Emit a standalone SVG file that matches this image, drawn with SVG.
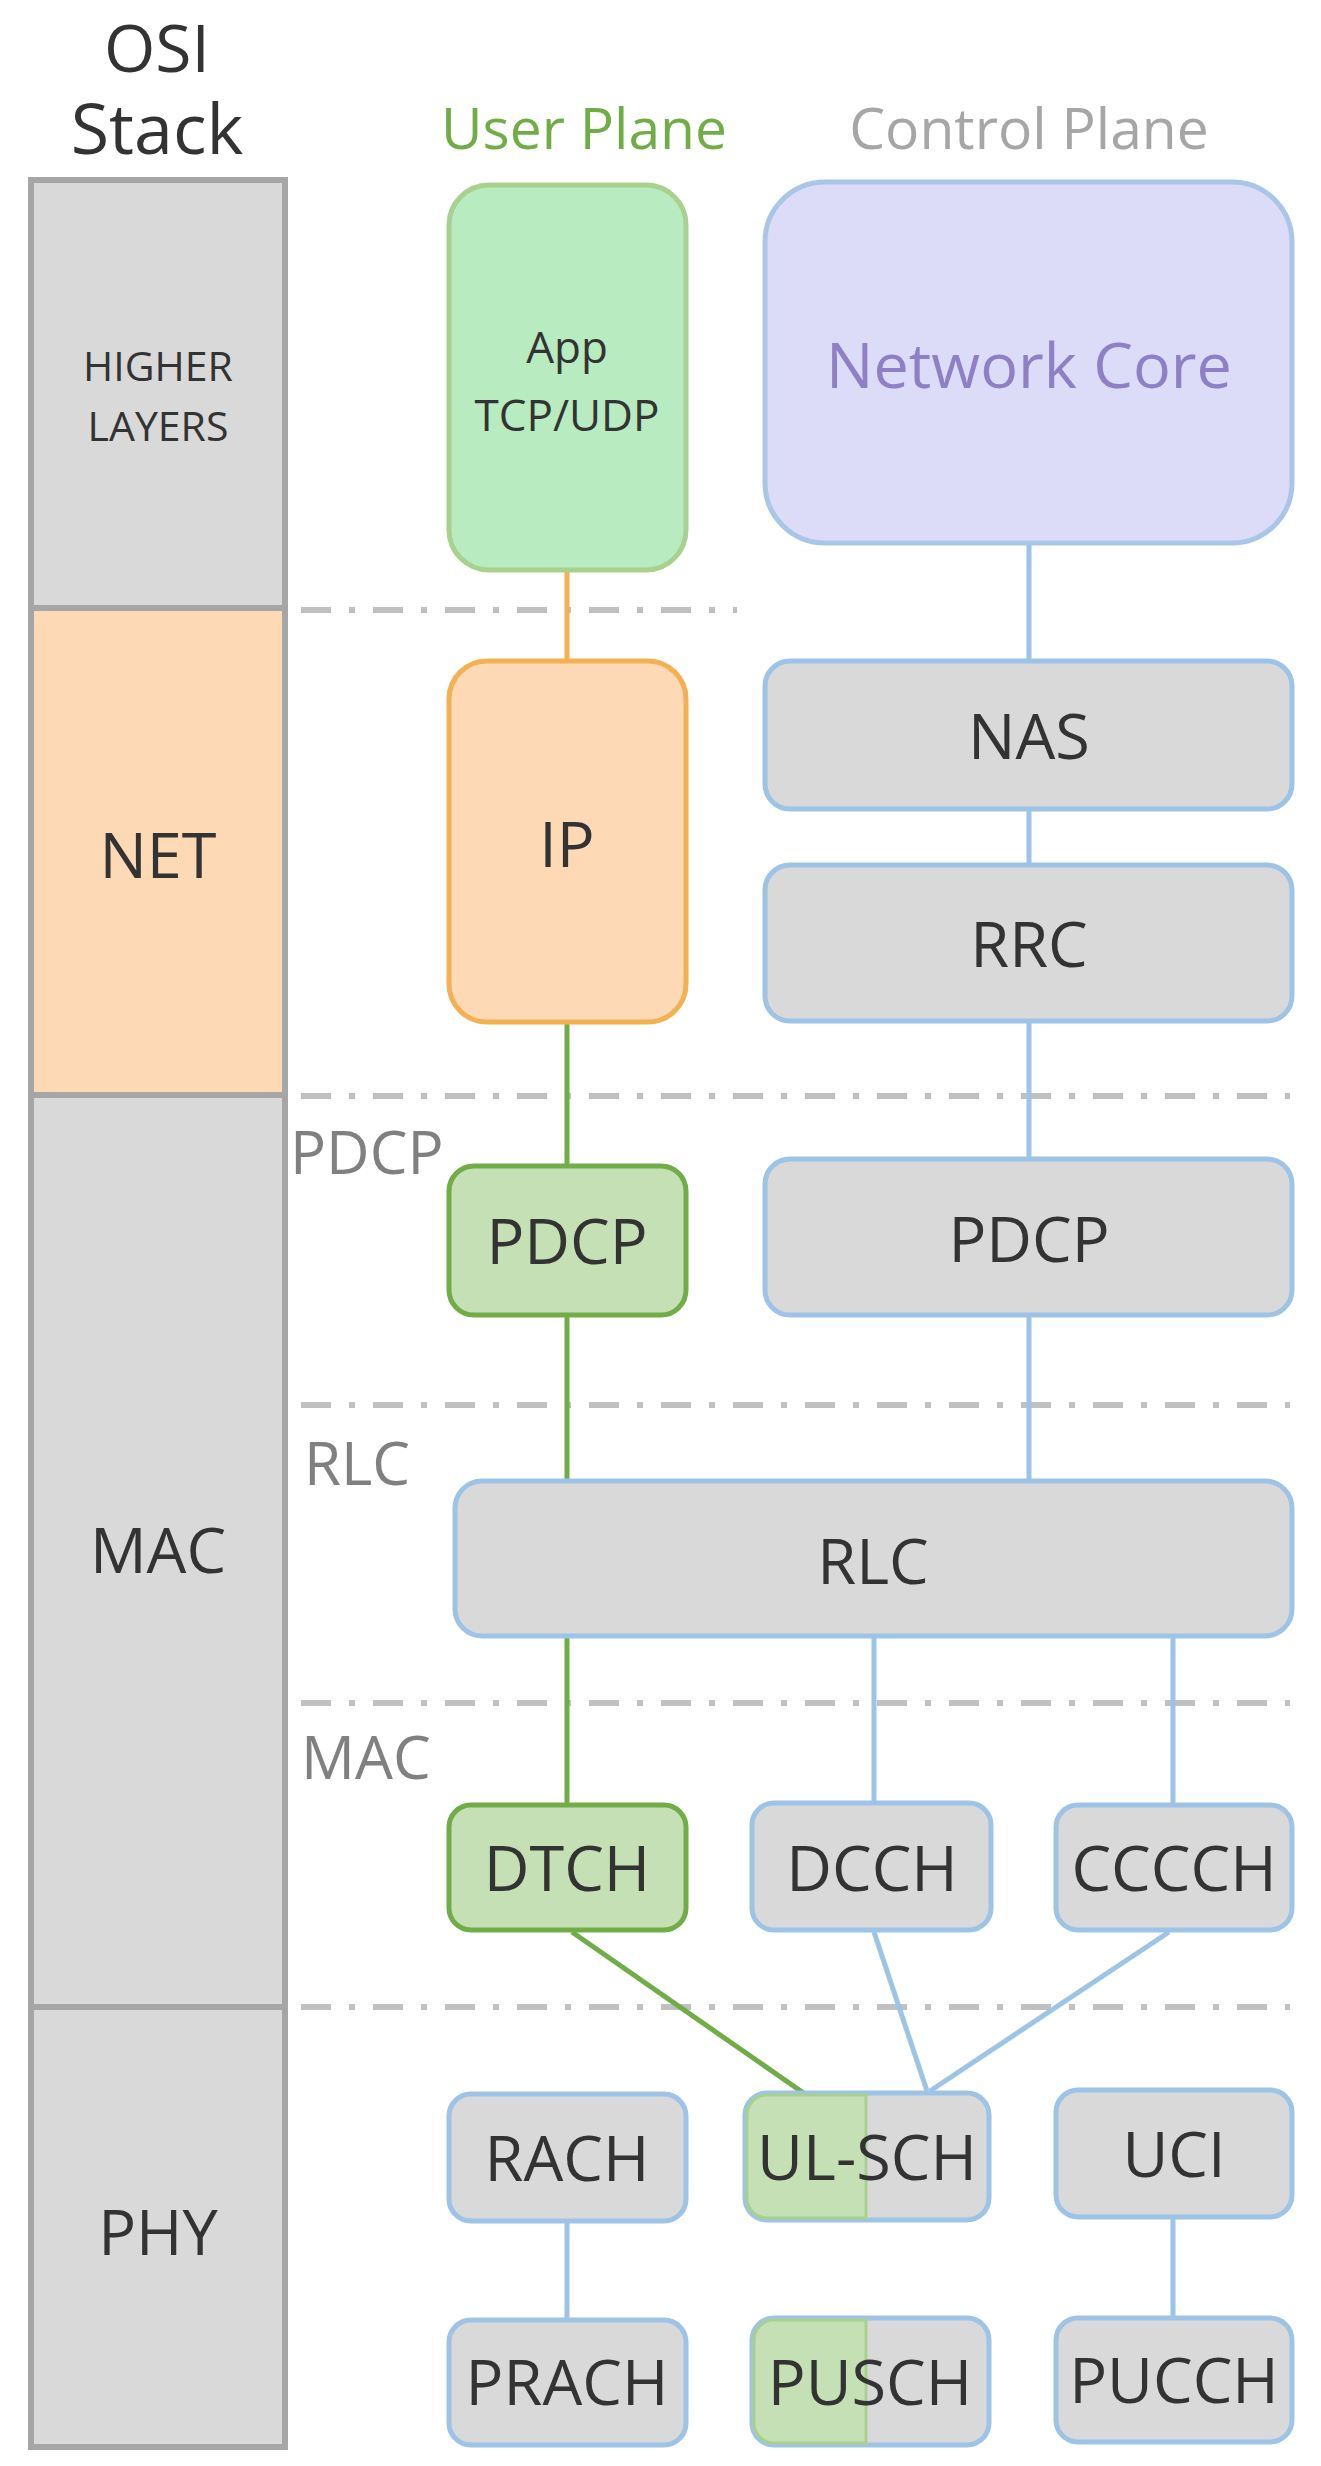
<svg xmlns="http://www.w3.org/2000/svg" width="1321" height="2466" viewBox="0 0 1321 2466">
<style>
text{font-family:"Open Sans","Liberation Sans",sans-serif;text-anchor:middle;fill:#333}
.osi{stroke:#a6a6a6;stroke-width:6}
.g{fill:#d9d9d9;stroke:#9dc3e6;stroke-width:5}
.gr{fill:#c5e0b4;stroke:#70ad47;stroke-width:5}
.dash{stroke:#c0c0c0;stroke-width:6;stroke-dasharray:30 18 6 18;fill:none}
.lb{fill:#808080;text-anchor:start;font-size:60px}
.n{font-size:63px}
.cb{stroke:#9dc3e6;stroke-width:5;fill:none}
.cg{stroke:#70ad47;stroke-width:5;fill:none}
</style>
<rect width="1321" height="2466" fill="#fff"/>
<g id="osi">
<rect class="osi" x="31" y="180" width="254" height="428" fill="#d9d9d9"/>
<rect class="osi" x="31" y="608" width="254" height="487" fill="#fdd9b5"/>
<rect class="osi" x="31" y="1095" width="254" height="912" fill="#d9d9d9"/>
<rect class="osi" x="31" y="2007" width="254" height="440" fill="#d9d9d9"/>
<text x="157" y="72" font-size="66" fill="#404040">OSI</text>
<text x="157" y="154" font-size="70" fill="#404040">Stack</text>
<text x="158" y="381" font-size="41">HIGHER</text>
<text x="158" y="441" font-size="41">LAYERS</text>
<text x="158" y="878" class="n">NET</text>
<text x="158" y="1573" class="n">MAC</text>
<text x="158" y="2255" class="n">PHY</text>
</g>
<text x="584" y="149" font-size="57" style="fill:#70ad47">User Plane</text>
<text x="1029" y="149" font-size="57" style="fill:#a6a6a6">Control Plane</text>
<g id="dividers">
<line class="dash" x1="301" y1="610" x2="737" y2="610"/>
<line class="dash" x1="301" y1="1096" x2="1290" y2="1096"/>
<line class="dash" x1="301" y1="1405" x2="1290" y2="1405"/>
<line class="dash" x1="301" y1="1703" x2="1290" y2="1703"/>
<line class="dash" x1="301" y1="2007" x2="1290" y2="2007"/>
<text class="lb" x="290" y="1174">PDCP</text>
<text class="lb" x="304" y="1485">RLC</text>
<text class="lb" x="301" y="1779">MAC</text>
</g>
<g id="connectors">
<line x1="567" y1="570" x2="567" y2="661" stroke="#f4b153" stroke-width="5"/>
<line class="cg" x1="567" y1="1022" x2="567" y2="1166"/>
<line class="cg" x1="567" y1="1315" x2="567" y2="1481"/>
<line class="cg" x1="567" y1="1636" x2="567" y2="1805"/>
<line class="cb" x1="1029" y1="543" x2="1029" y2="661"/>
<line class="cb" x1="1029" y1="809" x2="1029" y2="865"/>
<line class="cb" x1="1029" y1="1021" x2="1029" y2="1159"/>
<line class="cb" x1="1029" y1="1315" x2="1029" y2="1481"/>
<line class="cb" x1="874" y1="1636" x2="874" y2="1803"/>
<line class="cb" x1="1173" y1="1636" x2="1173" y2="1805"/>
<line class="cg" x1="572" y1="1932" x2="805" y2="2094"/>
<line class="cb" x1="874" y1="1932" x2="927" y2="2091"/>
<line class="cb" x1="1169" y1="1932" x2="930" y2="2091"/>
<line class="cb" x1="567" y1="2221" x2="567" y2="2320"/>
<line class="cb" x1="1173" y1="2217" x2="1173" y2="2318"/>
</g>
<g id="app"><rect x="449" y="185" width="237" height="385" rx="40" fill="#b8ebbf" stroke="#a9d18e" stroke-width="5"/>
<text x="567" y="363" font-size="44" fill="#595959">App</text><text x="567" y="431" font-size="44" fill="#595959">TCP/UDP</text></g>
<g id="core"><rect x="765" y="182" width="527" height="361" rx="60" fill="#dcdcf8" stroke="#a9c5e8" stroke-width="5"/>
<text x="1029" y="388" class="n" style="fill:#8f7fc4">Network Core</text></g>
<g id="ip"><rect x="449" y="661" width="237" height="361" rx="38" fill="#fdd9b5" stroke="#f4b153" stroke-width="5"/><text x="567" y="867" class="n">IP</text></g>
<g id="nas"><rect class="g" x="765" y="661" width="527" height="148" rx="25"/><text x="1029" y="759" class="n">NAS</text></g>
<g id="rrc"><rect class="g" x="765" y="865" width="527" height="156" rx="25"/><text x="1029" y="967" class="n">RRC</text></g>
<g id="pdcp-u"><rect class="gr" x="449" y="1166" width="237" height="149" rx="25"/><text x="567" y="1264" class="n">PDCP</text></g>
<g id="pdcp-c"><rect class="g" x="765" y="1159" width="527" height="156" rx="25"/><text x="1029" y="1262" class="n">PDCP</text></g>
<g id="rlc"><rect class="g" x="455" y="1481" width="837" height="155" rx="27"/><text x="873" y="1584" class="n">RLC</text></g>
<g id="dtch"><rect class="gr" x="449" y="1805" width="237" height="125" rx="22"/><text x="567" y="1891" class="n">DTCH</text></g>
<g id="dcch"><rect class="g" x="752" y="1803" width="239" height="127" rx="22"/><text x="872" y="1891" class="n">DCCH</text></g>
<g id="cccch"><rect class="g" x="1056" y="1805" width="236" height="125" rx="22"/><text x="1174" y="1891" class="n">CCCCH</text></g>
<g id="rach"><rect class="g" x="449" y="2094" width="237" height="127" rx="22"/><text x="567" y="2181" class="n">RACH</text></g>
<g id="ulsch"><rect class="g" x="745" y="2093" width="244" height="127" rx="22"/>
<path d="M866 2095 H767 a20 20 0 0 0 -20 20 V2198 a20 20 0 0 0 20 20 H866 Z" fill="#c5e0b4" stroke="#a9d18e" stroke-width="3"/>
<text x="867" y="2180" class="n">UL-SCH</text></g>
<g id="uci"><rect class="g" x="1056" y="2090" width="236" height="127" rx="22"/><text x="1174" y="2177" class="n">UCI</text></g>
<g id="prach"><rect class="g" x="449" y="2320" width="237" height="125" rx="22"/><text x="567" y="2405" class="n">PRACH</text></g>
<g id="pusch"><rect class="g" x="752" y="2318" width="237" height="127" rx="22"/>
<path d="M866 2320 H774 a20 20 0 0 0 -20 20 V2423 a20 20 0 0 0 20 20 H866 Z" fill="#c5e0b4" stroke="#a9d18e" stroke-width="3"/>
<text x="870" y="2405" class="n">PUSCH</text></g>
<g id="pucch"><rect class="g" x="1056" y="2318" width="236" height="124" rx="22"/><text x="1174" y="2403" class="n">PUCCH</text></g>
</svg>
